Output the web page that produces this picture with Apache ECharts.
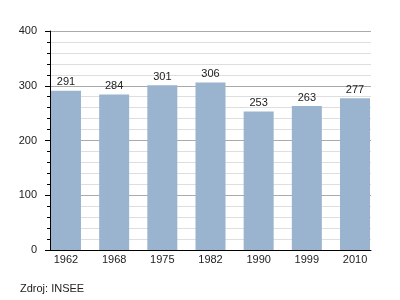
<!DOCTYPE html>
<html>
<head>
<meta charset="utf-8">
<script src="https://cdn.jsdelivr.net/npm/echarts@6/dist/echarts.min.js"></script>
<style>html,body{margin:0;padding:0;background:#fff}#c{width:400px;height:300px}</style>
</head>
<body>
<div id="c"></div>
<script>
var categories = ['1962', '1968', '1975', '1982', '1990', '1999', '2010'];
var population = [291, 284, 301, 306, 253, 263, 277];
var yTicks = [0, 100, 200, 300, 400];
var sourceText = 'Zdroj: INSEE';

var font = '"Liberation Sans", Arial, Helvetica, sans-serif';
var chart = echarts.init(document.getElementById('c'), null, {renderer: 'canvas'});
chart.setOption({
  animation: false,
  backgroundColor: '#fff',
  textStyle: {fontFamily: font},
  grid: [
    {left: 50, top: 31, width: 321, height: 219, containLabel: false},
    {left: 41.9, top: 31, width: 337.2, height: 219, containLabel: false}
  ],
  xAxis: [
    {gridIndex: 0, type: 'value', min: 0, max: 1,
     axisLine: {show: true, lineStyle: {color: '#000', width: 1}},
     axisTick: {show: false}, axisLabel: {show: false}, splitLine: {show: false}},
    {gridIndex: 1, type: 'category', data: categories,
     axisLine: {show: false}, axisTick: {show: false},
     axisLabel: {color: '#222', fontSize: 11, fontFamily: font, margin: 4}}
  ],
  yAxis: [
    {gridIndex: 0, type: 'value', min: yTicks[0], max: yTicks[yTicks.length - 1], interval: 100,
     axisLine: {show: true, lineStyle: {color: '#000', width: 1}},
     axisTick: {show: true, length: 5, lineStyle: {color: '#000'}},
     minorTick: {show: true, splitNumber: 5, length: 3, lineStyle: {color: '#000'}},
     axisLabel: {color: '#222', fontSize: 11, fontFamily: font, margin: 13},
     splitLine: {show: true, lineStyle: {color: '#aaa', width: 1}},
     minorSplitLine: {show: true, lineStyle: {color: '#dedede', width: 1}}},
    {gridIndex: 1, type: 'value', min: yTicks[0], max: yTicks[yTicks.length - 1], show: false,
     splitLine: {show: false}}
  ],
  series: [{
    type: 'bar', xAxisIndex: 1, yAxisIndex: 1, data: population,
    barWidth: 30,
    itemStyle: {color: '#9ab3cf'},
    label: {show: true, position: 'top', distance: 3, color: '#222', fontSize: 11, fontFamily: font}
  }],
  graphic: [{
    type: 'text', left: 20, top: 283,
    style: {text: sourceText, fill: '#222', fontSize: 11, fontFamily: font}
  }]
});
</script>
</body>
</html>
